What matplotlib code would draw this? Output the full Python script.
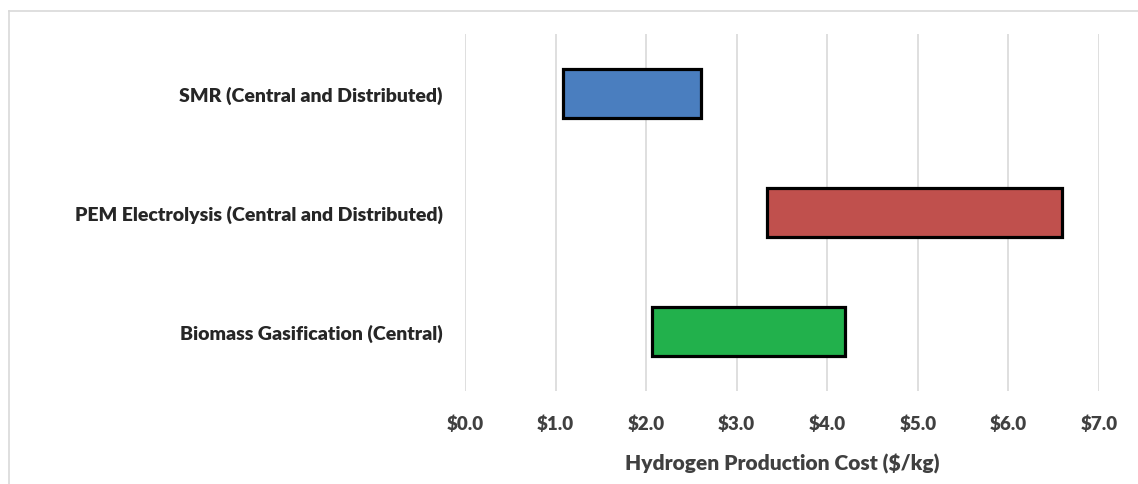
import matplotlib
matplotlib.use("Agg")
import matplotlib.pyplot as plt
from matplotlib.lines import Line2D

plt.rcParams['font.family'] = ['Lato', 'DejaVu Sans']

# данные: диапазоны стоимости производства водорода
categories = ["SMR (Central and Distributed)",
              "PEM Electrolysis (Central and Distributed)",
              "Biomass Gasification (Central)"]
cost_low = [1.08, 3.33, 2.06]
cost_high = [2.61, 6.59, 4.20]
bar_colors = ["#4A7EBF", "#C0504D", "#22B14C"]
x_ticks = [0, 1, 2, 3, 4, 5, 6, 7]
x_tick_labels = ["$0.0", "$1.0", "$2.0", "$3.0", "$4.0", "$5.0", "$6.0", "$7.0"]

fig = plt.figure(figsize=(11.38, 4.85), dpi=100)
ax = fig.add_axes([465 / 1138, 1 - 392 / 485, (1099 - 465) / 1138, (392 - 35) / 485])

widths = [h - l for l, h in zip(cost_low, cost_high)]
ax.barh(range(len(categories)), widths, left=cost_low, height=0.41,
        color=bar_colors, edgecolor="black", linewidth=2.3, zorder=3)

ax.set_xlim(0, 7)
ax.set_ylim(len(categories) - 0.5, -0.5)
ax.set_xticks(x_ticks)
ax.set_xticklabels(x_tick_labels, fontsize=13.5, fontweight="heavy", color="#404040")
ax.set_yticks(range(len(categories)))
ax.set_yticklabels(categories, fontsize=14, fontweight="heavy", color="#262626")
ax.tick_params(axis="both", length=0)
ax.tick_params(axis="y", pad=16)
ax.tick_params(axis="x", pad=17)
ax.grid(axis="x", color="#D9D9D9", linewidth=1.2, zorder=0)
for s in ax.spines.values():
    s.set_visible(False)

ax.set_xlabel("Hydrogen Production Cost ($/kg)", fontsize=15, fontweight="heavy",
              color="#404040", labelpad=15)

# рамка диаграммы
fig.add_artist(Line2D([8.5 / 1138, 1.0], [1 - 11.5 / 485, 1 - 11.5 / 485],
                      color="#D9D9D9", linewidth=1.2))
fig.add_artist(Line2D([8.5 / 1138, 8.5 / 1138], [0.0, 1 - 11.5 / 485],
                      color="#D9D9D9", linewidth=1.2))

fig.savefig("out.png", dpi=100)
